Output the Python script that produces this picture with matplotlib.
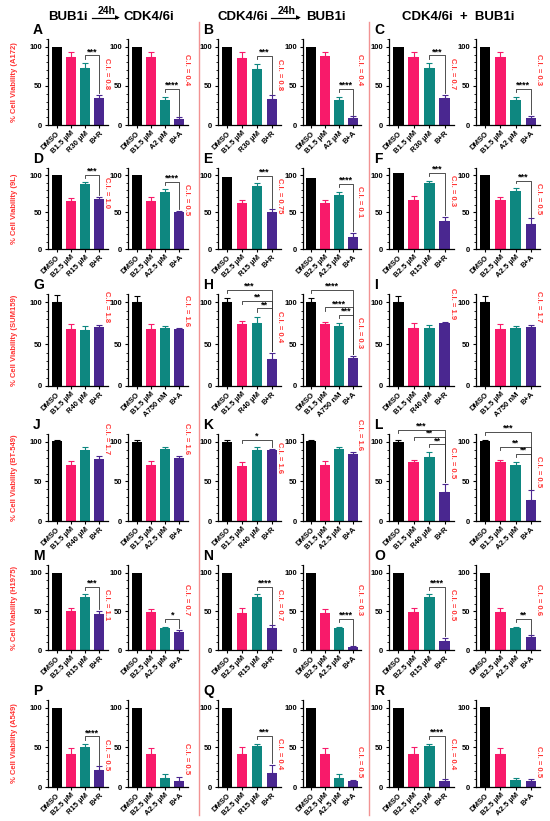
import numpy as np
import matplotlib.pyplot as plt
from matplotlib.ticker import MultipleLocator

plt.rcParams['font.family'] = ['Liberation Sans', 'DejaVu Sans']
plt.rcParams['font.weight'] = 'bold'

W, H = 550, 821

cells = ["A172", "9L", "SUM159", "BT-549", "H1975", "A549"]
letters = "ABCDEFGHIJKLMNOPQR"

# x labels of each row: ribociclib plots, abemaciclib plots
labels_r = [["DMSO", "B1.5 µM", "R30 µM", "B+R"],
            ["DMSO", "B2.5 µM", "R15 µM", "B+R"],
            ["DMSO", "B1.5 µM", "R40 µM", "B+R"],
            ["DMSO", "B1.5 µM", "R40 µM", "B+R"],
            ["DMSO", "B2.5 µM", "R15 µM", "B+R"],
            ["DMSO", "B2.5 µM", "R15 µM", "B+R"]]
labels_a = [["DMSO", "B1.5 µM", "A2 µM", "B+A"],
            ["DMSO", "B2.5 µM", "A2.5 µM", "B+A"],
            ["DMSO", "B1.5 µM", "A750 nM", "B+A"],
            ["DMSO", "B1.5 µM", "A2.5 µM", "B+A"],
            ["DMSO", "B2.5 µM", "A2.5 µM", "B+A"],
            ["DMSO", "B2.5 µM", "A2.5 µM", "B+A"]]

# mean viability, six plots per row (A-left, A-right, B-left, ...)
mean_a172 = [[100, 87, 73, 34], [100, 87, 32, 8], [100, 86, 72, 33],
             [100, 88, 32, 9], [100, 87, 73, 34], [100, 87, 32, 9]]
err_a172 = [[0, 7, 6, 5], [0, 6, 4, 2], [0, 7, 6, 5],
            [0, 5, 4, 2], [0, 6, 6, 5], [0, 6, 4, 3]]
mean_9l = [[100, 65, 88, 68], [100, 65, 78, 50], [98, 63, 86, 50],
           [96, 62, 74, 16], [103, 66, 90, 38], [101, 66, 79, 34]]
err_9l = [[0, 4, 3, 3], [0, 5, 3, 2], [0, 4, 3, 4],
          [0, 5, 4, 6], [0, 6, 3, 6], [0, 5, 4, 8]]
mean_sum159 = [[100, 68, 67, 70], [100, 68, 69, 68], [100, 74, 75, 32],
               [100, 74, 72, 33], [101, 69, 69, 75], [100, 68, 69, 71]]
err_sum159 = [[9, 6, 5, 3], [8, 6, 3, 1], [5, 4, 8, 8],
              [5, 3, 3, 3], [7, 6, 4, 2], [8, 6, 3, 2]]
mean_bt549 = [[101, 71, 90, 79], [100, 71, 91, 80], [100, 70, 90, 90],
              [101, 71, 91, 85], [100, 74, 81, 37], [101, 74, 71, 26]]
err_bt549 = [[2, 5, 4, 3], [2, 5, 3, 2], [2, 5, 3, 1],
             [2, 5, 3, 2], [2, 3, 6, 10], [2, 3, 4, 13]]
mean_h1975 = [[100, 50, 68, 47], [100, 49, 29, 23], [100, 48, 68, 29],
              [100, 48, 29, 4], [100, 49, 68, 12], [100, 49, 29, 17]]
err_h1975 = [[0, 5, 4, 4], [0, 4, 1, 3], [0, 6, 4, 3],
             [0, 5, 1, 1], [0, 5, 4, 4], [0, 5, 1, 2]]
mean_a549 = [[100, 42, 51, 21], [100, 42, 12, 7], [100, 42, 52, 18],
             [100, 42, 12, 7], [100, 42, 52, 8], [101, 42, 9, 8]]
err_a549 = [[0, 7, 3, 5], [0, 7, 4, 6], [0, 8, 3, 10],
            [0, 7, 4, 2], [0, 8, 3, 2], [0, 7, 2, 2]]

means = [mean_a172, mean_9l, mean_sum159, mean_bt549, mean_h1975, mean_a549]
errs = [err_a172, err_9l, err_sum159, err_bt549, err_h1975, err_a549]

ci_vals = [["0.8", "0.4", "0.8", "0.4", "0.7", "0.3"],
           ["1.0", "0.5", "0.75", "0.1", "0.3", "0.5"],
           ["1.8", "1.6", "0.4", "0.3", "1.9", "1.7"],
           ["1.7", "1.6", "1.6", "1.6", "0.5", "0.5"],
           ["1.1", "0.7", "0.7", "0.3", "0.5", "0.6"],
           ["0.5", "0.5", "0.4", "0.5", "0.4", "0.5"]]

# significance brackets (bar i, bar j, stars)
sig = [[[(2, 3, "***")], [(2, 3, "****")], [(2, 3, "***")], [(2, 3, "****")], [(2, 3, "***")], [(2, 3, "****")]],
       [[(2, 3, "***")], [(2, 3, "****")], [(2, 3, "***")], [(2, 3, "****")], [(2, 3, "***")], [(2, 3, "***")]],
       [[], [], [(2, 3, "**"), (1, 3, "**"), (0, 3, "***")],
        [(2, 3, "***"), (1, 3, "****"), (0, 3, "****")], [], []],
       [[], [], [(1, 3, "*")], [],
        [(2, 3, "**"), (1, 3, "**"), (0, 3, "***")], [(2, 3, "**"), (1, 3, "**"), (0, 3, "***")]],
       [[(2, 3, "***")], [(2, 3, "*")], [(2, 3, "****")], [(2, 3, "****")], [(2, 3, "****")], [(2, 3, "**")]],
       [[(2, 3, "****")], [], [(2, 3, "***")], [], [(2, 3, "****")], []]]

colors = ["#000000", "#F81A6A", "#0E8780", "#4A2790"]
red = "#FF3333"

# layout in pixels
lefts = [48, 128, 218, 303, 389, 476]
widths = [60, 60, 63, 58, 65, 64]
tops = [39, 168, 294, 434, 565, 700]
bottoms = [125, 249, 386, 521, 650, 787]

fig = plt.figure(figsize=(W / 100, H / 100), dpi=100)

for r in range(6):
    for k in range(6):
        ax = fig.add_axes([lefts[k] / W, 1 - bottoms[r] / H,
                           widths[k] / W, (bottoms[r] - tops[r]) / H])
        m = np.array(means[r][k])
        e = np.array(errs[r][k])
        x = np.arange(4)
        ax.bar(x, m, width=0.7, color=colors, zorder=2)
        for i in range(4):
            if e[i] > 0:
                ax.errorbar(x[i], m[i], yerr=[[0], [e[i]]], fmt='none',
                            ecolor=colors[i], elinewidth=0.8, capsize=2,
                            capthick=0.8, zorder=1)
        ax.set_xlim(-0.6, 3.6)
        ax.set_ylim(0, 110)
        ax.set_yticks([0, 50, 100])
        ax.yaxis.set_minor_locator(MultipleLocator(10))
        ax.set_xticks(x)
        labs = labels_r[r] if k % 2 == 0 else labels_a[r]
        ax.set_xticklabels(labs, rotation=45, ha='right', rotation_mode='anchor',
                           fontsize=5.5, fontweight='bold')
        ax.tick_params(axis='y', labelsize=5.5, length=2.5, width=0.8, pad=1.5)
        ax.tick_params(axis='y', which='minor', length=1.3, width=0.6)
        ax.tick_params(axis='x', length=2, width=0.8, pad=1.5)
        for s in ['top', 'right']:
            ax.spines[s].set_visible(False)
        for s in ['left', 'bottom']:
            ax.spines[s].set_linewidth(0.9)

        # brackets
        tops_bar = m + e
        first_y = None
        prev = -1
        for (i, j, stars) in sig[r][k]:
            yb = tops_bar[i:j + 1].max() + 10
            if prev > 0:
                yb = max(yb, prev + 9)
            prev = yb
            if first_y is None:
                first_y = yb
            ax.plot([i, i, j, j], [yb - 4, yb, yb, tops_bar[j] + 2],
                    color='#333333', lw=0.6, clip_on=False, zorder=3)
            ax.text((i + j) / 2, yb - 1, stars, ha='center', va='bottom',
                    fontsize=6.5, fontweight='bold', clip_on=False)

        # combination index
        txt = "C.I. = " + ci_vals[r][k]
        if first_y is not None and first_y >= 60:
            ty, va = first_y - 3, 'top'
        elif first_y is not None:
            ty, va = first_y + 5, 'bottom'
        else:
            ty, va = tops_bar[3] + 3, 'bottom'
        ax.text(3.5, ty, txt, rotation=-90, ha='center', va=va, color=red,
                fontsize=5.5, fontweight='bold', clip_on=False)

        if k == 0:
            ax.set_ylabel("% Cell Viability (" + cells[r] + ")", color=red,
                          fontsize=5.5, fontweight='bold')
            ax.yaxis.set_label_coords(-0.5, 0.5)
        if k % 2 == 0:
            fig.text((lefts[k] - 15) / W, 1 - (tops[r] - 9) / H,
                     letters[r * 3 + k // 2], fontsize=10, fontweight='bold',
                     ha='left', va='center')

# column separators
for xs in [199, 369]:
    fig.add_artist(plt.Line2D([xs / W, xs / W], [1 - 22 / H, 1 - 815 / H],
                              color="#F29393", lw=1.0))

# headers
hy = 1 - 17 / H
fig.text(88 / W, hy, "BUB1i", ha='right', va='center', fontsize=9.5, fontweight='bold')
fig.text(123 / W, hy, "CDK4/6i", ha='left', va='center', fontsize=9.5, fontweight='bold')
fig.text(268 / W, hy, "CDK4/6i", ha='right', va='center', fontsize=9.5, fontweight='bold')
fig.text(306 / W, hy, "BUB1i", ha='left', va='center', fontsize=9.5, fontweight='bold')
fig.text(458 / W, hy, "CDK4/6i  +  BUB1i", ha='center', va='center', fontsize=9.5,
         fontweight='bold')
for x0, x1 in [(92, 121), (271, 302)]:
    fig.add_artist(plt.Line2D([x0 / W, (x1 - 4) / W], [1 - 18 / H, 1 - 18 / H],
                              color='black', lw=0.9))
    fig.text((x1 - 1) / W, 1 - 18 / H, "▶", ha='right', va='center', fontsize=4.5,
             family='DejaVu Sans')
    fig.text((x0 + x1) / 2 / W, 1 - 11 / H, "24h", ha='center', va='center',
             fontsize=7.5, fontweight='bold')

fig.savefig("out.png", dpi=100)
